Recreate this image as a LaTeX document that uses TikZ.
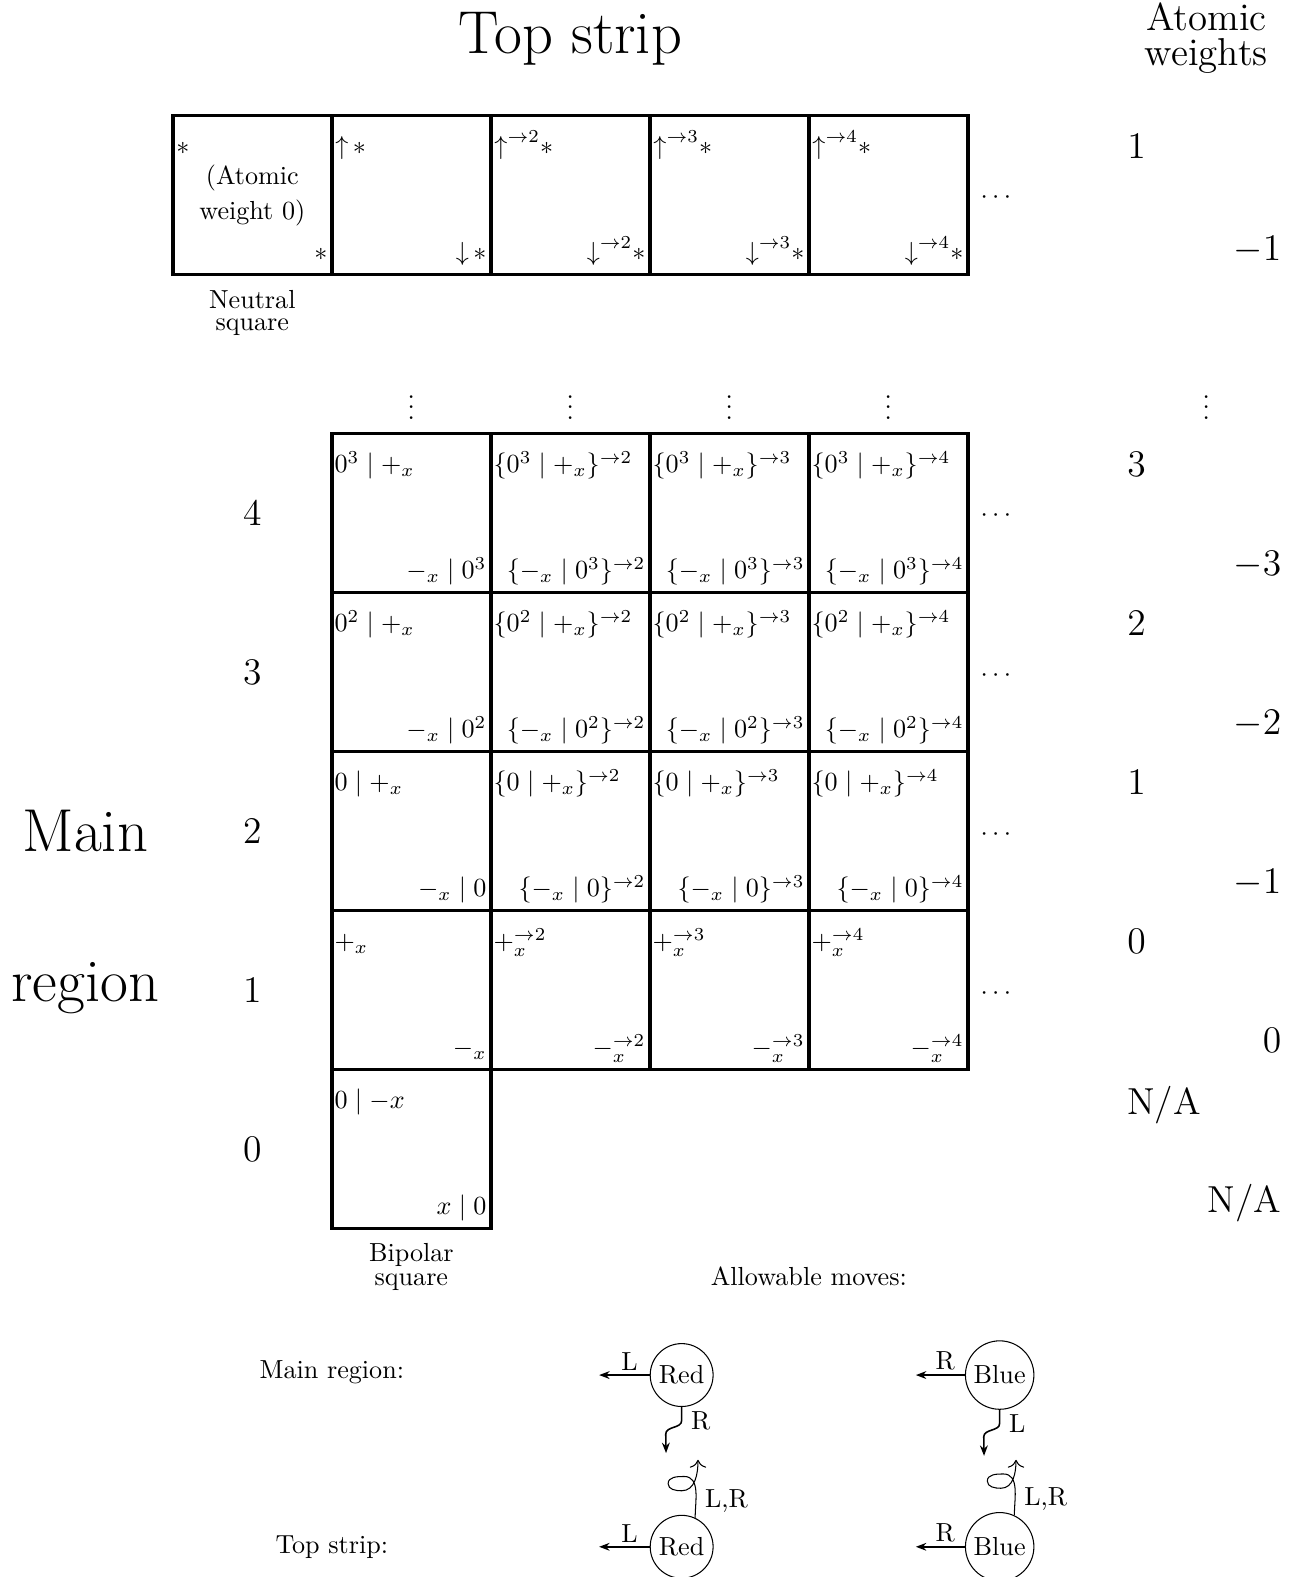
\documentclass[tikz,border=0pt]{standalone}
\usepackage{amsmath}
\usepackage{amssymb}
\usetikzlibrary{positioning, arrows.meta}
\tikzset{
  tile/.style={draw, line width=1.3pt, minimum size=2.14cm, inner sep=0pt},
  tl/.style={anchor=base west, inner sep=0pt},
  br/.style={anchor=base east, inner sep=0pt},
  dts/.style={anchor=base, inner sep=0pt},
  bigtext/.style={font=\fontsize{23.2}{28}\selectfont, anchor=base},
  mstate/.style={draw, circle, inner sep=2pt},
  mv/.style={semithick, -{Stealth[length=4pt]}},
  curl/.style={thin, -{To[length=3pt]}},
}

\begin{document}
\begin{tikzpicture}[x=2.14cm, y=2.14cm]
  \useasboundingbox (-2.087,-2.19) rectangle (6.108,7.728);

  % titles
  \node[bigtext] (ttl) at (1.5,7.39) {Top strip};
  \node[font=\fontsize{14.9}{13.4}\selectfont, align=center] (aw) at (5.5,7.49) {Atomic\\weights};
  \node[bigtext] (mainA) at (-1.55,2.372) {Main};
  \node[bigtext] (mainB) at (-1.55,1.428) {region};

  % top strip
  \foreach \i in {0,...,4}
    \node[tile] (t\i) at (\i-0.5,6.5) {};
  \node[tl] (t0-up) at ([shift={(0.03,-0.255)}]t0.north west) {$*$};
  \node[br] (t0-dn) at ([shift={(-0.035,0.1)}]t0.south east) {$*$};
  \node[align=center, font=\fontsize{10}{13.4}\selectfont] (t0-txt) at (t0) {(Atomic\\weight 0)};
  \node[tl] (t1-up) at ([shift={(0.03,-0.255)}]t1.north west) {${\uparrow}\,{*}$};
  \node[br] (t1-dn) at ([shift={(-0.035,0.1)}]t1.south east) {${\downarrow}\,{*}$};
  \foreach \i in {2,3,4} {
    \node[tl] (t\i-up) at ([shift={(0.03,-0.255)}]t\i.north west) {${\uparrow}^{\rightarrow\i}{*}$};
    \node[br] (t\i-dn) at ([shift={(-0.035,0.1)}]t\i.south east) {${\downarrow}^{\rightarrow\i}{*}$};
  }
  \node[dts] (tdots) at (4.19,6.445) {$\cdots$};
  \node[font=\fontsize{10}{8.2}\selectfont, align=center] (neutral) at (-0.5,5.76) {Neutral\\square};

  % main region
  \node[tile] (m-0-0) at (0.5,0.5) {};
  \foreach \j in {1,...,4}
    \foreach \i in {0,...,3}
      \node[tile] (m-\i-\j) at (\i+0.5,\j+0.5) {};
  \foreach \i in {0,...,3}
    \node[dts] (vd\i) at (\i+0.5,5.09) {$\vdots$};
  \foreach \j in {1,...,4}
    \node[dts] (dots\j) at (4.19,\j+0.445) {$\cdots$};

  % bipolar square
  \node[tl] (m-0-0-up) at ([shift={(0.025,-0.255)}]m-0-0.north west) {$0 \mid -x$};
  \node[br] (m-0-0-dn) at ([shift={(-0.035,0.1)}]m-0-0.south east) {$x \mid 0$};
  \node[font=\fontsize{10}{9.2}\selectfont, align=center] (bip) at (0.5,-0.24) {Bipolar\\square};

  % row 1
  \node[tl] (m-0-1-up) at ([shift={(0.025,-0.255)}]m-0-1.north west) {$+_x$};
  \node[br] (m-0-1-dn) at ([shift={(-0.035,0.1)}]m-0-1.south east) {$-_x$};
  \foreach \i/\pw in {1/2,2/3,3/4} {
    \node[tl] (m-\i-1-up) at ([shift={(0.025,-0.255)}]m-\i-1.north west) {$+_x^{\rightarrow\pw}$};
    \node[br] (m-\i-1-dn) at ([shift={(-0.035,0.1)}]m-\i-1.south east) {$-_x^{\rightarrow\pw}$};
  }

  % rows 2 to 4
  \foreach \j/\z in {2/0, 3/0^2, 4/0^3} {
    \node[tl] (m-0-\j-up) at ([shift={(0.025,-0.255)}]m-0-\j.north west) {$\z \mid +_x$};
    \node[br] (m-0-\j-dn) at ([shift={(-0.035,0.1)}]m-0-\j.south east) {$-_x \mid \z$};
    \foreach \i/\pw in {1/2,2/3,3/4} {
      \node[tl] (m-\i-\j-up) at ([shift={(0.025,-0.255)}]m-\i-\j.north west) {$\{\z \mid +_x\}^{\rightarrow\pw}$};
      \node[br] (m-\i-\j-dn) at ([shift={(-0.035,0.1)}]m-\i-\j.south east) {$\{-_x \mid \z\}^{\rightarrow\pw}$};
    }
  }

  % row numbers
  \foreach \j in {0,...,4}
    \node[font=\Large] (rn\j) at (-0.5,\j+0.5) {\j};

  % atomic weights
  \node[dts] (vdw) at (5.5,5.09) {$\vdots$};
  \node[tl, font=\Large] (wt-t-up) at (5.0,6.733) {$1$};
  \node[br, font=\Large] (wt-t-dn) at (5.975,6.09) {$-1$};
  \foreach \j/\p/\q in {4/3/-3, 3/2/-2, 2/1/-1, 1/0/0} {
    \node[tl, font=\Large] (wt\j-up) at (5.0,\j+0.73) {$\p$};
    \node[br, font=\Large] (wt\j-dn) at (5.975,\j+0.11) {$\q$};
  }
  \node[tl, font=\Large] (wt0-up) at (5.0,0.72) {N/A};
  \node[br, font=\Large] (wt0-dn) at (5.975,0.1) {N/A};

  % allowable moves
  \node (allow) at (3.0,-0.30) {Allowable moves:};
  \node (lmain) at (0,-0.9) {Main region:};
  \node (ltop) at (0,-2.0) {Top strip:};

  \node[mstate] (rt) at (2.2,-0.92) {Red};
  \node[mstate] (bt) at (4.2,-0.92) {Blue};
  \node[mstate] (rb) at (2.2,-2.0) {Red};
  \node[mstate] (bb) at (4.2,-2.0) {Blue};

  \coordinate[left=0.68cm of rt.west] (rtL);
  \coordinate[left=0.66cm of bt.west] (btL);
  \coordinate[left=0.68cm of rb.west] (rbL);
  \coordinate[left=0.66cm of bb.west] (bbL);
  \coordinate[below left=0.62cm and 0.21cm of rt.south] (rtD);
  \coordinate[below left=0.62cm and 0.21cm of bt.south] (btD);
  \coordinate[above right=1.17cm and 0.22cm of rb.center] (rbU);
  \coordinate[above right=1.17cm and 0.22cm of bb.center] (bbU);

  % main region moves
  \draw[mv] (rt.west) -- node[above, pos=.4, inner sep=1.5pt] {L} (rtL);
  \draw[mv] (rt.south) -- ++(0,-0.085) node[right] {R}
        to[out=-90,in=90] ++(-0.1,-0.085) -- (rtD);
  \draw[mv] (bt.west) -- node[above, pos=.4, inner sep=1.5pt] {R} (btL);
  \draw[mv] (bt.south) -- ++(0,-0.085) node[right] {L}
        to[out=-90,in=90] ++(-0.1,-0.085) -- (btD);

  % top strip moves
  \draw[mv] (rb.west) -- node[above, pos=.4, inner sep=1.5pt] {L} (rbL);
  \draw[curl] (rb.65) to[out=90,in=0] node[right, pos=.3] {L,R} ++(-0.07,0.26)
        to[out=180,in=90] ++(-0.1,-0.045) to[out=-90,in=180] ++(0.085,-0.045)
        to[out=0,in=-90] (rbU);
  \draw[mv] (bb.west) -- node[above, pos=.4, inner sep=1.5pt] {R} (bbL);
  \draw[curl] (bb.65) to[out=90,in=0] node[right, pos=.3] {L,R} ++(-0.07,0.26)
        to[out=180,in=90] ++(-0.1,-0.045) to[out=-90,in=180] ++(0.085,-0.045)
        to[out=0,in=-90] (bbU);

\end{tikzpicture}
\end{document}
